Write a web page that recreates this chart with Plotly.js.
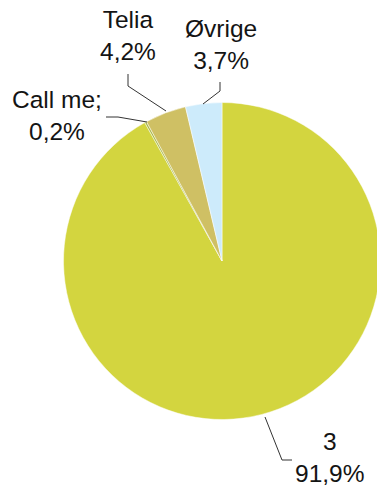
<!DOCTYPE html>
<html>
<head>
<meta charset="utf-8">
<script src="https://cdn.plot.ly/plotly-3.0.1.min.js"></script>
<style>
html,body{margin:0;padding:0;overflow:hidden;background:#fff;width:377px;height:488px;}
#chart{width:400px;height:488px;}
</style>
</head>
<body>
<div id="chart"></div>
<script>
// Data
const labels = ['3', 'Call me', 'Telia', 'Øvrige'];
const displayNames = ['3', 'Call me;', 'Telia', 'Øvrige'];
const values = [91.9, 0.2, 4.2, 3.7];
const colors = ['#D3D53F', '#A9B84A', '#CFC064', '#CDEBFB'];

// Layout helpers (pixel -> paper)
const W = 400, H = 488;
const px = x => x / W;
const py = y => 1 - y / H;

// Label placement (pixels) and leader paths
const labelPos = [
  {x: 329, y: 457},
  {x: 57, y: 116},
  {x: 128, y: 36},
  {x: 221, y: 45}
];
const leaders = [
  [[265,417],[282,460],[292,460]],
  [[106,117],[118,117],[147,122]],
  [[128,74],[128,86],[166,111]],
  [[220,82],[220,91],[203,104]]
];

const fmt = v => v.toFixed(1).replace('.', ',') + '%';

const annotations = labels.map((l, i) => ({
  xref: 'paper', yref: 'paper',
  x: px(labelPos[i].x), y: py(labelPos[i].y),
  xanchor: 'center', yanchor: 'middle',
  text: displayNames[i] + '<br>' + fmt(values[i]),
  showarrow: false,
  align: 'center',
  font: {family: 'Liberation Sans, Arial, sans-serif', size: 24.5, color: '#141414'}
}));

const shapes = leaders.map(pts => ({
  type: 'path', xref: 'paper', yref: 'paper',
  path: pts.map((p, j) => (j ? 'L ' : 'M ') + px(p[0]) + ',' + py(p[1])).join(' '),
  line: {color: '#333333', width: 1}
}));

const cx = 222, cy = 261, r = 158.5;
const trace = {
  type: 'pie',
  labels: labels,
  values: values,
  sort: false,
  direction: 'clockwise',
  rotation: 0,
  textinfo: 'none',
  hoverinfo: 'none',
  marker: {colors: colors, line: {color: '#ffffff', width: 0.5}},
  domain: {x: [px(cx - r), px(cx + r)], y: [py(cy + r), py(cy - r)]},
  showlegend: false
};

const layout = {
  width: W, height: H,
  margin: {l: 0, r: 0, t: 0, b: 0},
  paper_bgcolor: '#ffffff',
  showlegend: false,
  annotations: annotations,
  shapes: shapes
};

Plotly.newPlot('chart', [trace], layout, {displayModeBar: false, staticPlot: true});
</script>
</body>
</html>
